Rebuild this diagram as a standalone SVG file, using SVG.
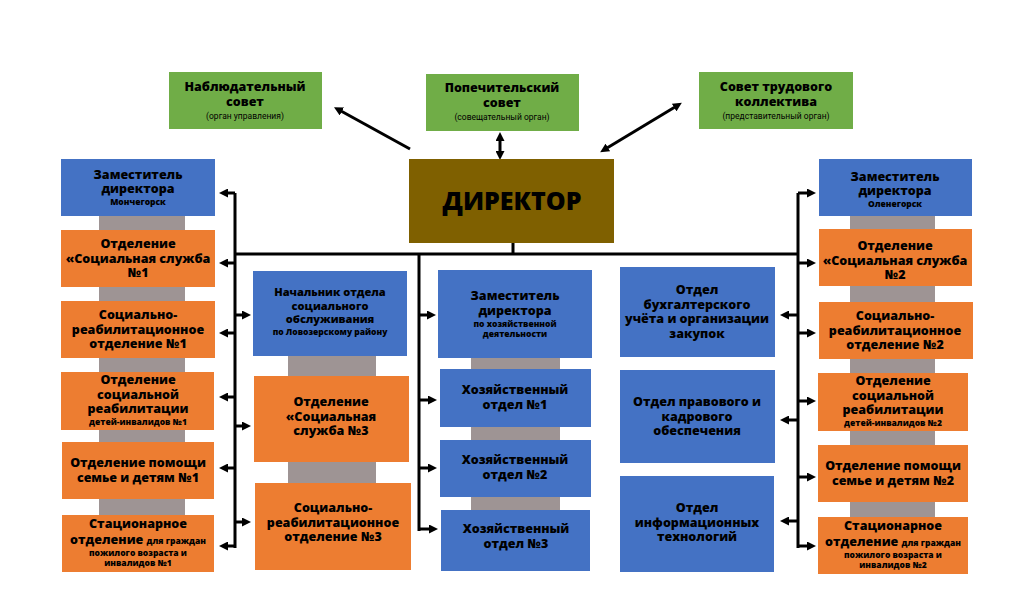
<svg xmlns="http://www.w3.org/2000/svg" width="1024" height="591" viewBox="0 0 1024 591">
<style>
text{font-family:"Open Sans","Noto Sans","DejaVu Sans",sans-serif;font-weight:800;fill:#000;text-anchor:middle;font-size:12.5px}
.s{font-size:8.5px}
.n{font-size:11px}
.sub{font-size:8.5px;font-weight:400;font-family:"Roboto","Open Sans",sans-serif}
.g{fill:#70AD47}
.b{fill:#4472C4}
.o{fill:#ED7D31}
.gr{fill:#9E9494}
.c{stroke:#000;stroke-width:3;fill:none}
</style>
<defs>
<marker id="ah" markerUnits="userSpaceOnUse" markerWidth="9" markerHeight="9" refX="1" refY="4.5" orient="auto-start-reverse">
<path d="M0,0 L9,4.5 L0,9 z" fill="#000"/>
</marker>
</defs>
<rect width="1024" height="591" fill="#fff"/>

<g id="spines">
<rect class="gr" x="99" y="214" width="86" height="302"/>
<rect class="gr" x="288" y="354" width="88" height="130"/>
<rect class="gr" x="471" y="356" width="89" height="156"/>
<rect class="gr" x="850" y="214" width="85" height="306"/>
</g>

<g id="connectors">
<path class="c" d="M513,243 V254 M233.5,254 H799.5 M235,193 V548 M419,254 V531 M798,193 V548"/>
<path class="c" d="M410,149 L341,111" marker-end="url(#ah)"/>
<path class="c" d="M500,140 V152" marker-start="url(#ah)" marker-end="url(#ah)"/>
<path class="c" d="M607,148 L675,107" marker-start="url(#ah)" marker-end="url(#ah)"/>
<g marker-end="url(#ah)" class="c">
<path d="M235,193 H227"/><path d="M235,263 H227"/><path d="M235,333 H227"/><path d="M235,397 H227"/><path d="M235,468 H227"/><path d="M235,546 H227"/>
<path d="M235,315 H243"/><path d="M235,426 H243"/><path d="M235,522 H243"/>
<path d="M419,315 H428"/><path d="M419,400 H429"/><path d="M419,468 H429"/><path d="M419,529 H430"/>
<path d="M798,315 H788"/><path d="M798,420 H788"/><path d="M798,521 H788"/>
<path d="M798,193 H808"/><path d="M798,263 H808"/><path d="M798,333 H808"/><path d="M798,401 H808"/><path d="M798,477 H808"/><path d="M798,546 H808"/>
</g>
</g>

<g id="n-nabl"><rect class="g" x="169" y="72" width="153" height="57"/>
<text x="245" y="91">Наблюдательный<tspan x="245" dy="15">совет</tspan><tspan class="sub" x="245" dy="12.5">(орган управления)</tspan></text></g>
<g id="n-pope"><rect class="g" x="426" y="74" width="153" height="57"/>
<text x="502" y="92">Попечительский<tspan x="502" dy="15">совет</tspan><tspan class="sub" x="502" dy="12.5">(совещательный орган)</tspan></text></g>
<g id="n-stk"><rect class="g" x="699" y="72" width="154" height="57"/>
<text x="776" y="91">Совет трудового<tspan x="776" dy="15">коллектива</tspan><tspan class="sub" x="776" dy="12.5">(представительный орган)</tspan></text></g>

<g id="n-dir"><rect x="409" y="159" width="205" height="84" fill="#7F6000"/>
<text x="512" y="210" style="font-size:25px;font-weight:900">ДИРЕКТОР</text></g>

<g id="n-l1"><rect class="b" x="61" y="159" width="154" height="57"/>
<text x="138" y="178.5">Заместитель<tspan x="138" dy="14.5">директора</tspan><tspan class="s" x="138" dy="12">Мончегорск</tspan></text></g>
<g id="n-l2"><rect class="o" x="61" y="230" width="154" height="57"/>
<text x="138" y="248">Отделение<tspan x="138" dy="14.5">«Социальная служба</tspan><tspan x="138" dy="14.5">№1</tspan></text></g>
<g id="n-l3"><rect class="o" x="61" y="301" width="154" height="57"/>
<text x="138" y="319">Социально-<tspan x="138" dy="14.5">реабилитационное</tspan><tspan x="138" dy="14.5">отделение №1</tspan></text></g>
<g id="n-l4"><rect class="o" x="61" y="372" width="153" height="58"/>
<text x="138" y="384">Отделение<tspan x="138" dy="14.5">социальной</tspan><tspan x="138" dy="14.5">реабилитации</tspan><tspan class="s" x="138" dy="12">детей-инвалидов №1</tspan></text></g>
<g id="n-l5"><rect class="o" x="62" y="442" width="152" height="57"/>
<text x="138" y="467">Отделение помощи<tspan x="138" dy="15">семье и детям №1</tspan></text></g>
<g id="n-l6"><rect class="o" x="62" y="515" width="152" height="57"/>
<text x="138" y="528">Стационарное<tspan x="138" dy="16">отделение </tspan><tspan class="s">для граждан</tspan><tspan class="s" x="138" dy="11.5">пожилого возраста и</tspan><tspan class="s" x="138" dy="10.5">инвалидов №1</tspan></text></g>

<g id="n-c2a"><rect class="b" x="253" y="271" width="154" height="85"/>
<text class="n" x="330" y="296">Начальник отдела<tspan x="330" dy="13.5">социального</tspan><tspan x="330" dy="13.5">обслуживания</tspan><tspan class="s" x="330" dy="11.5">по Ловозерскому району</tspan></text></g>
<g id="n-c2b"><rect class="o" x="254" y="376" width="155" height="86"/>
<text x="331" y="406">Отделение<tspan x="331" dy="14.5">«Социальная</tspan><tspan x="331" dy="14.5">служба №3</tspan></text></g>
<g id="n-c2c"><rect class="o" x="255" y="483" width="156" height="87"/>
<text x="333" y="512">Социально-<tspan x="333" dy="14.5">реабилитационное</tspan><tspan x="333" dy="14.5">отделение №3</tspan></text></g>

<g id="n-c3a"><rect class="b" x="438" y="270" width="154" height="88"/>
<text x="515" y="300">Заместитель<tspan x="515" dy="14.5">директора</tspan><tspan class="s" x="515" dy="12">по хозяйственной</tspan><tspan class="s" x="515" dy="10.5">деятельности</tspan></text></g>
<g id="n-c3b"><rect class="b" x="440" y="369" width="151" height="58"/>
<text x="515" y="394">Хозяйственный<tspan x="515" dy="15">отдел №1</tspan></text></g>
<g id="n-c3c"><rect class="b" x="440" y="440" width="151" height="57"/>
<text x="515" y="464">Хозяйственный<tspan x="515" dy="15">отдел №2</tspan></text></g>
<g id="n-c3d"><rect class="b" x="441" y="510" width="149" height="61"/>
<text x="516" y="533">Хозяйственный<tspan x="516" dy="15">отдел №3</tspan></text></g>

<g id="n-c4a"><rect class="b" x="620" y="267" width="155" height="90"/>
<text x="697" y="294">Отдел<tspan x="697" dy="14.5">бухгалтерского</tspan><tspan x="697" dy="14.5">учёта и организации</tspan><tspan x="697" dy="14.5">закупок</tspan></text></g>
<g id="n-c4b"><rect class="b" x="620" y="370" width="155" height="93"/>
<text x="697" y="406">Отдел правового и<tspan x="697" dy="14.5">кадрового</tspan><tspan x="697" dy="14.5">обеспечения</tspan></text></g>
<g id="n-c4c"><rect class="b" x="620" y="476" width="154" height="96"/>
<text x="697" y="512">Отдел<tspan x="697" dy="14.5">информационных</tspan><tspan x="697" dy="14.5">технологий</tspan></text></g>

<g id="n-r1"><rect class="b" x="819" y="159" width="153" height="57"/>
<text x="895" y="180.5">Заместитель<tspan x="895" dy="14.5">директора</tspan><tspan class="s" x="895" dy="12">Оленегорск</tspan></text></g>
<g id="n-r2"><rect class="o" x="819" y="229" width="153" height="57"/>
<text x="895" y="250">Отделение<tspan x="895" dy="14.5">«Социальная служба</tspan><tspan x="895" dy="14.5">№2</tspan></text></g>
<g id="n-r3"><rect class="o" x="819" y="302" width="154" height="57"/>
<text x="895" y="320">Социально-<tspan x="895" dy="14.5">реабилитационное</tspan><tspan x="895" dy="14.5">отделение №2</tspan></text></g>
<g id="n-r4"><rect class="o" x="818" y="373" width="150" height="58"/>
<text x="893" y="385">Отделение<tspan x="893" dy="14.5">социальной</tspan><tspan x="893" dy="14.5">реабилитации</tspan><tspan class="s" x="893" dy="12">детей-инвалидов №2</tspan></text></g>
<g id="n-r5"><rect class="o" x="818" y="445" width="150" height="57"/>
<text x="893" y="470">Отделение помощи<tspan x="893" dy="15">семье и детям №2</tspan></text></g>
<g id="n-r6"><rect class="o" x="818" y="517" width="150" height="57"/>
<text x="893" y="530">Стационарное<tspan x="893" dy="16">отделение </tspan><tspan class="s">для граждан</tspan><tspan class="s" x="893" dy="11.5">пожилого возраста и</tspan><tspan class="s" x="893" dy="10.5">инвалидов №2</tspan></text></g>
</svg>
